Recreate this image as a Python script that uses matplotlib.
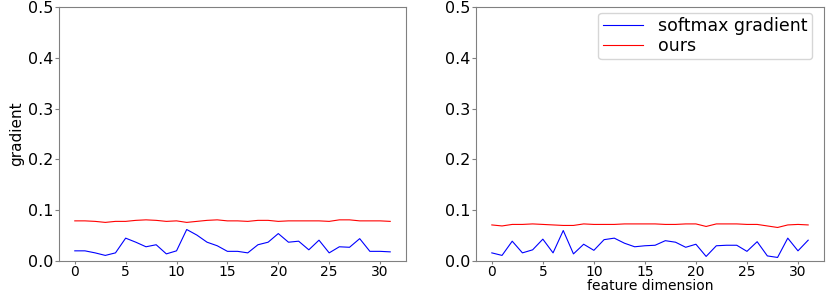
import matplotlib
matplotlib.use("Agg")
import matplotlib.pyplot as plt
import numpy as np

dims = list(range(32))

left_softmax = [0.020, 0.020, 0.016, 0.011, 0.016, 0.045, 0.037, 0.028, 0.032, 0.014,
                0.020, 0.062, 0.051, 0.037, 0.030, 0.019, 0.019, 0.016, 0.032, 0.037,
                0.054, 0.037, 0.039, 0.022, 0.041, 0.016, 0.028, 0.027, 0.044, 0.019,
                0.019, 0.018]
left_ours = [0.079, 0.079, 0.078, 0.076, 0.078, 0.078, 0.080, 0.081, 0.080, 0.078,
             0.079, 0.076, 0.078, 0.080, 0.081, 0.079, 0.079, 0.078, 0.080, 0.080,
             0.078, 0.079, 0.079, 0.079, 0.079, 0.078, 0.081, 0.081, 0.079, 0.079,
             0.079, 0.078]

right_softmax = [0.016, 0.011, 0.039, 0.016, 0.022, 0.043, 0.016, 0.060, 0.014, 0.033,
                 0.021, 0.042, 0.045, 0.035, 0.028, 0.030, 0.031, 0.040, 0.037, 0.027,
                 0.033, 0.009, 0.030, 0.031, 0.031, 0.019, 0.038, 0.010, 0.007, 0.045,
                 0.020, 0.041]
right_ours = [0.071, 0.069, 0.072, 0.072, 0.073, 0.072, 0.071, 0.070, 0.070, 0.073,
              0.072, 0.072, 0.072, 0.073, 0.073, 0.073, 0.073, 0.072, 0.072, 0.073,
              0.073, 0.068, 0.073, 0.073, 0.073, 0.072, 0.072, 0.069, 0.066, 0.071,
              0.072, 0.071]

xticks = [0, 5, 10, 15, 20, 25, 30]
yticks = [0.0, 0.1, 0.2, 0.3, 0.4, 0.5]
ytick_labels = ["0.0", "0.1", "0.2", "0.3", "0.4", "0.5"]

W, H = 831, 291
fig = plt.figure(figsize=(W / 100, H / 100), dpi=100)

def px_axes(l, r, t, b):
    return fig.add_axes([l / W, (H - b) / H, (r - l) / W, (b - t) / H])

ax1 = px_axes(59, 406, 7, 261)
ax2 = px_axes(476, 824, 7, 261)

for ax, sm, ours in [(ax1, left_softmax, left_ours), (ax2, right_softmax, right_ours)]:
    ax.plot(dims, sm, color="blue", lw=0.8, label="softmax gradient")
    ax.plot(dims, ours, color="red", lw=0.8, label="ours")
    ax.set_ylim(0, 0.5)
    ax.set_xticks(xticks)
    ax.set_yticks(yticks)
    ax.set_yticklabels(ytick_labels)
    ax.tick_params(axis="y", labelsize=11.5, color="#808080", length=3, pad=1.0)
    ax.tick_params(axis="x", labelsize=10, color="#808080", length=2.5, pad=0.3)
    for s in ax.spines.values():
        s.set_color("#808080")
        s.set_linewidth(0.8)

ax1.set_ylabel("gradient", fontsize=11, labelpad=3)
ax2.set_xlabel("feature dimension", fontsize=10, labelpad=0)

leg = ax2.legend(loc="upper right", fontsize=12.5, handlelength=2.3,
                 bbox_to_anchor=(1.0 - 12 / 348, 1.0 - 6 / 254), borderaxespad=0,
                 labelspacing=0.1, handletextpad=0.9, borderpad=0.25)

fig.savefig("out.png", dpi=100)
